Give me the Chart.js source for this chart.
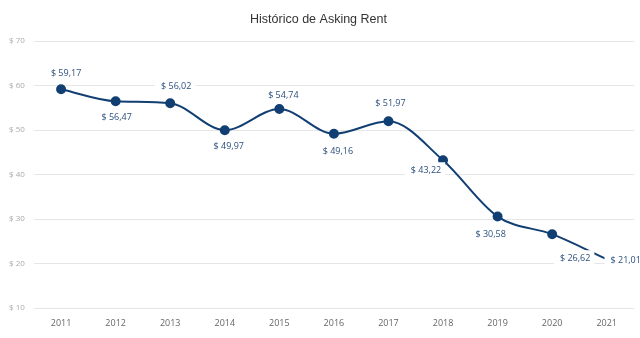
<!DOCTYPE html>
<html>
<head>
<meta charset="utf-8">
<script src="https://cdn.jsdelivr.net/npm/chart.js@4/dist/chart.umd.min.js"></script>
<style>
  html, body { margin: 0; padding: 0; background: #fff; }
  #wrap { width: 640px; height: 338px; position: relative; }
</style>
</head>
<body>
<div id="wrap"><canvas id="chart"></canvas></div>
<script>
const anos = ["2011", "2012", "2013", "2014", "2015", "2016", "2017", "2018", "2019", "2020", "2021"];
const askingRent = [59.17, 56.47, 56.02, 49.97, 54.74, 49.16, 51.97, 43.22, 30.58, 26.62, 21.01];
const ticksY = [10, 20, 30, 40, 50, 60, 70];

// deslocamento de cada rotulo em relacao ao ponto (px)
const rotuloDx = [5, 1, 6, 4, 4, 4, 2, -17, -7, 23, 19];
const rotuloDy = [-16, 16, -17, 16, -14, 18, -18, 10, 18, 24, 1];

const AZUL = "#123f73";

const formatar = v => "$ " + v.toFixed(2).replace(".", ",");

// ================= ROTULOS =================
const rotulos = {
  id: "rotulos",
  afterDatasetsDraw(chart) {
    const ctx = chart.ctx;
    const pontos = chart.getDatasetMeta(0).data;
    ctx.save();
    ctx.font = "9px 'Open Sans', sans-serif";
    ctx.textAlign = "center";
    ctx.textBaseline = "middle";
    pontos.forEach((p, i) => {
      const txt = formatar(askingRent[i]);
      const w = ctx.measureText(txt).width;
      const x = p.x + rotuloDx[i];
      const y = p.y + rotuloDy[i];
      ctx.fillStyle = "#fff";
      ctx.fillRect(x - w / 2 - 6, y - 8, w + 10, 16);
      ctx.fillStyle = "#2b4f7d";
      ctx.fillText(txt, x, y);
    });
    ctx.restore();
  }
};

new Chart(document.getElementById("chart"), {
  type: "line",
  data: {
    labels: anos,
    datasets: [{
      data: askingRent,
      borderColor: AZUL,
      backgroundColor: AZUL,
      borderWidth: 2,
      pointRadius: ctx => ctx.dataIndex === anos.length - 1 ? 0 : 4,
      pointBackgroundColor: AZUL,
      pointBorderColor: AZUL,
      tension: 0.4,
      cubicInterpolationMode: "monotone",
      clip: false
    }]
  },
  options: {
    responsive: true,
    maintainAspectRatio: false,
    animation: false,
    layout: { padding: { left: 0, right: 3, top: 5, bottom: 7 } },
    plugins: {
      legend: { display: false },
      tooltip: { enabled: false },
      title: {
        display: true,
        text: "Histórico de Asking Rent",
        color: "#333",
        font: { family: "'Liberation Sans', Arial, sans-serif", size: 12.5, weight: "normal" },
        padding: { top: 7, bottom: 14 }
      }
    },
    scales: {
      x: {
        offset: true,
        grid: { display: false },
        border: { display: false },
        ticks: { color: "#666", font: { family: "'Open Sans', sans-serif", size: 9 }, padding: 2, maxRotation: 0 }
      },
      y: {
        min: 10,
        max: 70,
        afterBuildTicks: axis => { axis.ticks = ticksY.map(v => ({ value: v })); },
        grid: { color: "#e6e6e6", lineWidth: 1, drawTicks: false },
        border: { display: false },
        ticks: {
          color: "#aaa",
          font: { family: "'Open Sans', sans-serif", size: 8 },
          padding: 9,
          callback: v => "$ " + v
        }
      }
    }
  },
  plugins: [rotulos]
});
</script>
</body>
</html>
